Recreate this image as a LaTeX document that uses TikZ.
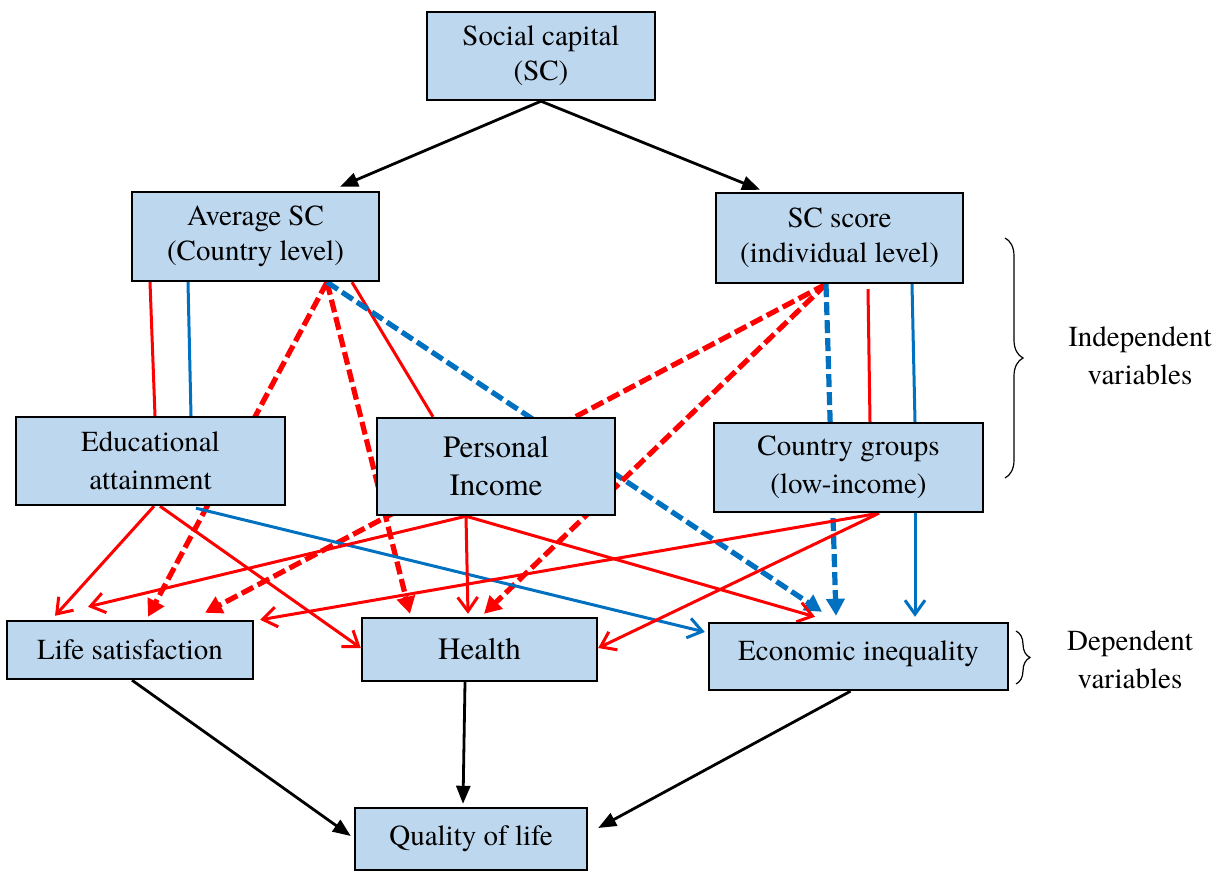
\documentclass[tikz,border=0pt]{standalone}
\usepackage{fontspec}
\setmainfont{texgyretermes}[Extension=.otf, UprightFont=*-regular,
  BoldFont=*-bold, ItalicFont=*-italic, BoldItalicFont=*-bolditalic]
\usetikzlibrary{arrows.meta,backgrounds,decorations.pathreplacing}
\definecolor{cbox}{HTML}{BDD7EE}
\definecolor{cred}{HTML}{FF0000}
\definecolor{cblue}{HTML}{0070C0}
\tikzset{
  every picture/.style={x=0.5pt, y=-0.5pt},
  var/.style={draw, line width=1.2pt, fill=cbox, align=center, inner sep=0pt,
    font=\fontsize{14.5}{17.5}\selectfont},
  loose/.style={font=\fontsize{14.5}{19}\selectfont},
  big/.style={font=\fontsize{15.5}{19}\selectfont},
  lnk/.style={line width=1.5pt},
  eff/.style={line width=1.5pt, -{Straight Barb[length=7pt,width=10pt]}},
  dsh/.style={line width=2.6pt, dash pattern=on 6.5pt off 2.5pt,
    -{Triangle[length=8.5pt,width=9pt]}},
  blk/.style={line width=1.4pt, -{Triangle[length=9pt,width=7pt]}},
  brc/.style={decorate, line width=0.6pt},
  lbl/.style={align=center, font=\fontsize{14.5}{19}\selectfont},
}

\begin{document}
\begin{tikzpicture}
  \path[use as bounding box] (0,0) rectangle (1226,871);

  % variables
  \node[var, minimum width=114pt, minimum height=44pt] (sc) at (541,56) {Social capital\\(SC)};
  \node[var, minimum width=123.5pt, minimum height=44.5pt] (avg) at (255.5,236.5) {Average SC\\(Country level)};
  \node[var, minimum width=123.5pt, minimum height=45pt] (scs) at (839.5,238) {SC score\\(individual level)};
  \node[var, loose, minimum width=134.5pt, minimum height=44pt] (edu) at (150.5,461) {Educational\\attainment};
  \node[var, big, minimum width=119pt, minimum height=48.5pt] (inc) at (496,466.5) {Personal\\Income};
  \node[var, loose, minimum width=134.5pt, minimum height=44.5pt] (cg) at (848.5,467.5) {Country groups\\(low-income)};
  \node[var, minimum width=123pt, minimum height=29pt] (life) at (130,650) {Life satisfaction};
  \node[var, big, minimum width=117.5pt, minimum height=31.5pt] (hlth) at (479.5,649.5) {Health};
  \node[var, minimum width=149.5pt, minimum height=33.5pt, text depth=6pt] (econ) at (858.5,656.5) {Economic inequality};
  \node[var, minimum width=116pt, minimum height=31pt] (qol) at (471,839) {Quality of life};

  \begin{scope}[on background layer]
    \coordinate (pa) at ([xshift=35.75pt]avg.south);
    \coordinate (ps) at ([xshift=-6.75pt]scs.south);
    \coordinate (pi) at ([xshift=-15pt]inc.south);
    \coordinate (pc) at ([xshift=15.25pt]cg.south);

    % social capital split
    \draw[blk] (sc.south) -- ([xshift=42.25pt,yshift=2pt]avg.north);
    \draw[blk] (sc.south) -- ([xshift=-39.75pt,yshift=1pt]scs.north);

    % level links
    \draw[lnk,cred] ([xshift=-52.75pt]avg.south) -- ([xshift=2.25pt]edu.north);
    \draw[lnk,cblue] ([xshift=-33.75pt]avg.south) -- ([xshift=20.25pt]edu.north);
    \draw[lnk,cred] ([xshift=48.25pt]avg.south) -- ([xshift=-31.5pt]inc.north);
    \draw[lnk,cred] ([xshift=14.25pt,yshift=-2.5pt]scs.south) -- ([xshift=10.75pt]cg.north);
    \draw[lnk,cblue] ([xshift=36.25pt]scs.south) -- ([xshift=33.25pt]cg.north);

    % mediated (dashed) paths
    \draw[dsh,cred] (pa) -- ([xshift=9pt,yshift=1.5pt]life.north);
    \draw[dsh,cred] (pa) -- ([xshift=-34.75pt,yshift=1.5pt]hlth.north);
    \draw[dsh,cblue] (pa) -- ([xshift=-18.25pt,yshift=5pt]econ.north);
    \draw[dsh,cred] (ps) -- ([xshift=37.5pt,yshift=3.5pt]life.north);
    \draw[dsh,cred] (ps) -- ([xshift=2.25pt,yshift=1.5pt]hlth.north);
    \draw[dsh,cblue] (ps) -- ([xshift=-11.25pt,yshift=3pt]econ.north);

    % direct effects
    \draw[eff,cred] ([xshift=1.75pt]edu.south) -- ([xshift=-37.5pt,yshift=2pt]life.north);
    \draw[eff,cred] ([xshift=4.75pt]edu.south) -- ([yshift=0.75pt]hlth.west);
    \draw[eff,cblue] ([xshift=22.75pt,yshift=-1pt]edu.south) -- ([xshift=-1.5pt,yshift=12.25pt]econ.west);
    \draw[eff,cred] (pi) -- ([xshift=-21pt,yshift=6.5pt]life.north);
    \draw[eff,cred] (pi) -- ([xshift=-5.75pt,yshift=1.5pt]hlth.north);
    \draw[eff,cred] (pi) -- ([xshift=-21.75pt,yshift=2.5pt]econ.north);
    \draw[eff,cred] (pc) -- ([xshift=3pt]life.north east);
    \draw[eff,cred] (pc) -- ([yshift=0.75pt]hlth.east);
    \draw[eff,cblue] ([xshift=33.25pt]cg.south) -- ([xshift=28.25pt,yshift=2.5pt]econ.north);

    % outcomes
    \draw[blk] ([xshift=1pt]life.south) -- ([xshift=-1.5pt,yshift=1.5pt]qol.west);
    \draw[blk] ([xshift=-7.25pt]hlth.south) -- ([xshift=-4pt,yshift=1.5pt]qol.north);
    \draw[blk] ([xshift=-4pt]econ.south) -- ([xshift=5pt,yshift=5.5pt]qol.east);
  \end{scope}

  % variable groups
  \draw[brc, decoration={brace, amplitude=9pt}] (1005,238) -- (1005,478);
  \node[lbl] (indep) at (1140,356) {Independent\\variables};
  \draw[brc, decoration={brace, amplitude=7pt}] (1016,631) -- (1016,684);
  \node[lbl] (dep) at (1130,660) {Dependent\\variables};
\end{tikzpicture}
\end{document}
